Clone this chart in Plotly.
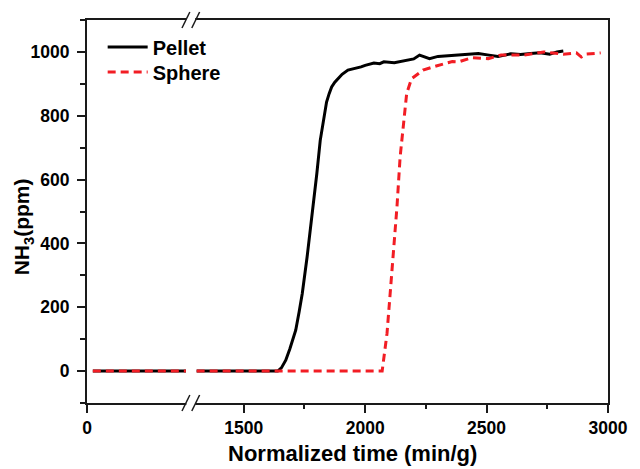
import plotly.graph_objects as go

# ---------------- data ----------------
# left segment of the broken axis (before the break)
left_x = [24, 407]
pellet_left_y = [0, 0]
sphere_left_y = [0, 0]

# right segment (after the break)
pellet_x = [1306, 1640, 1655, 1673, 1690, 1714, 1728, 1741, 1761, 1781, 1801, 1815,
            1828, 1841, 1852, 1862, 1875, 1888, 1905, 1929, 1950, 1983, 2000, 2020,
            2036, 2060, 2077, 2120, 2171, 2200, 2224, 2245, 2265, 2300, 2340, 2372,
            2420, 2466, 2510, 2547, 2600, 2640, 2681, 2720, 2760, 2790, 2816]
pellet_y = [0, 0, 10, 34, 70, 128, 185, 243, 358, 483, 619, 723,
            786, 843, 870, 890, 905, 916, 930, 943, 946, 953, 958, 962,
            965, 963, 969, 966, 974, 978, 990, 984, 979, 986, 988, 990,
            992, 995, 990, 986, 994, 992, 995, 997, 993, 1000, 1003]

sphere_x = [1306, 2070, 2090, 2110, 2131, 2144, 2157, 2171, 2191, 2238, 2280, 2305,
            2359, 2386, 2440, 2507, 2560, 2654, 2735, 2816, 2870, 2890, 2910, 2970]
sphere_y = [0, 0, 118, 306, 515, 671, 776, 870, 916, 943, 953, 958,
            970, 969, 982, 979, 990, 990, 1000, 993, 997, 984, 993, 997]

x_left_range = [0, 427]
x_right_range = [1282, 3000]
y_range = [-100, 1100]

# ---------------- layout geometry ----------------
W, H = 640, 469
L, R, T, B = 87, 619, 20, 403
PW, PH = R - L, B - T
BREAK = 193
dom_split = (BREAK - L) / PW

def px(x):
    return (x - L) / PW

def py(y):
    return (B - y) / PH

FONT = "Liberation Sans, Arial, Helvetica, sans-serif"
BLACK = "#000000"
RED = "#f21d24"
AX = "#1a1a1a"
DASH = "8px,5px"

fig = go.Figure()

# left segment traces
fig.add_trace(go.Scatter(x=left_x, y=pellet_left_y, mode="lines", xaxis="x", yaxis="y",
                         line=dict(color=BLACK, width=3), showlegend=False, name="Pellet"))
fig.add_trace(go.Scatter(x=left_x, y=sphere_left_y, mode="lines", xaxis="x", yaxis="y",
                         line=dict(color=RED, width=3, dash=DASH), showlegend=False, name="Sphere"))
# right segment traces
fig.add_trace(go.Scatter(x=pellet_x, y=pellet_y, mode="lines", xaxis="x2", yaxis="y2",
                         line=dict(color=BLACK, width=3), name="Pellet", legend="legend"))
fig.add_trace(go.Scatter(x=sphere_x, y=sphere_y, mode="lines", xaxis="x2", yaxis="y2",
                         line=dict(color=RED, width=3, dash=DASH), name="Sphere", legend="legend2"))

tickfont = dict(family=FONT, size=17.5, color=BLACK, weight="bold")

common_x = dict(showgrid=False, zeroline=False, showline=True, linewidth=2, linecolor=AX,
                mirror=True, ticks="outside", ticklen=8, tickwidth=2, tickcolor=AX,
                tickfont=tickfont)

legend_common = dict(xanchor="left", yanchor="middle",
                     font=dict(family=FONT, size=20, color=BLACK, weight="bold"),
                     bgcolor="rgba(0,0,0,0)", itemwidth=40, borderwidth=0)

fig.update_layout(
    width=W, height=H,
    margin=dict(l=L, r=W - R, t=T, b=H - B),
    paper_bgcolor="white", plot_bgcolor="white",
    xaxis=dict(domain=[0, dom_split], range=x_left_range, anchor="y",
               tickvals=[0], **common_x),
    xaxis2=dict(domain=[dom_split, 1], range=x_right_range, anchor="y2",
                tick0=0, dtick=500,
                minor=dict(ticks="outside", ticklen=4, tickwidth=2, tickcolor=AX, dtick=250, tick0=0),
                **common_x),
    yaxis=dict(range=y_range, anchor="x", showgrid=False, zeroline=False, showline=True,
               linewidth=2, linecolor=AX, ticks="outside", ticklen=8, tickwidth=2,
               tickcolor=AX, tick0=0, dtick=200, tickfont=tickfont, ticklabelstandoff=4,
               minor=dict(ticks="outside", ticklen=5, tickwidth=2, tickcolor=AX, dtick=100, tick0=0)),
    yaxis2=dict(range=y_range, anchor="x2", matches="y", side="right", showgrid=False,
                zeroline=False, showline=True, linewidth=2, linecolor=AX,
                showticklabels=False, ticks=""),
    legend=dict(x=px(103), y=py(47), **legend_common),
    legend2=dict(x=px(103), y=py(72), **legend_common),
    showlegend=True,
)

# axis titles
fig.add_annotation(x=(358 - L) / PW, y=py(453), xref="paper", yref="paper",
                   text="Normalized time (min/g)", showarrow=False,
                   xanchor="center", yanchor="middle",
                   font=dict(family=FONT, size=22, color=BLACK, weight="bold"))
fig.add_annotation(x=px(22), y=py(227), xref="paper", yref="paper",
                   text="NH<sub>3</sub>(ppm)", showarrow=False, textangle=-90,
                   xanchor="center", yanchor="middle",
                   font=dict(family=FONT, size=21, color=BLACK, weight="bold"))

# axis break marks
shapes = []
for yl in (B, T):
    shapes.append(dict(type="rect", xref="paper", yref="paper",
                       x0=px(188.5), x1=px(197.5), y0=py(yl + 3), y1=py(yl - 3),
                       fillcolor="white", line=dict(width=0), layer="above"))
    for off in (0, 10):
        shapes.append(dict(type="line", xref="paper", yref="paper",
                           x0=px(184 + off), y0=py(yl + 8), x1=px(192 + off), y1=py(yl - 8),
                           line=dict(color=AX, width=1.5), layer="above"))
fig.update_layout(shapes=shapes)

fig.write_html("out.html", config={"displayModeBar": False},
               post_script="document.body.style.margin='0';document.body.style.padding='0';")
